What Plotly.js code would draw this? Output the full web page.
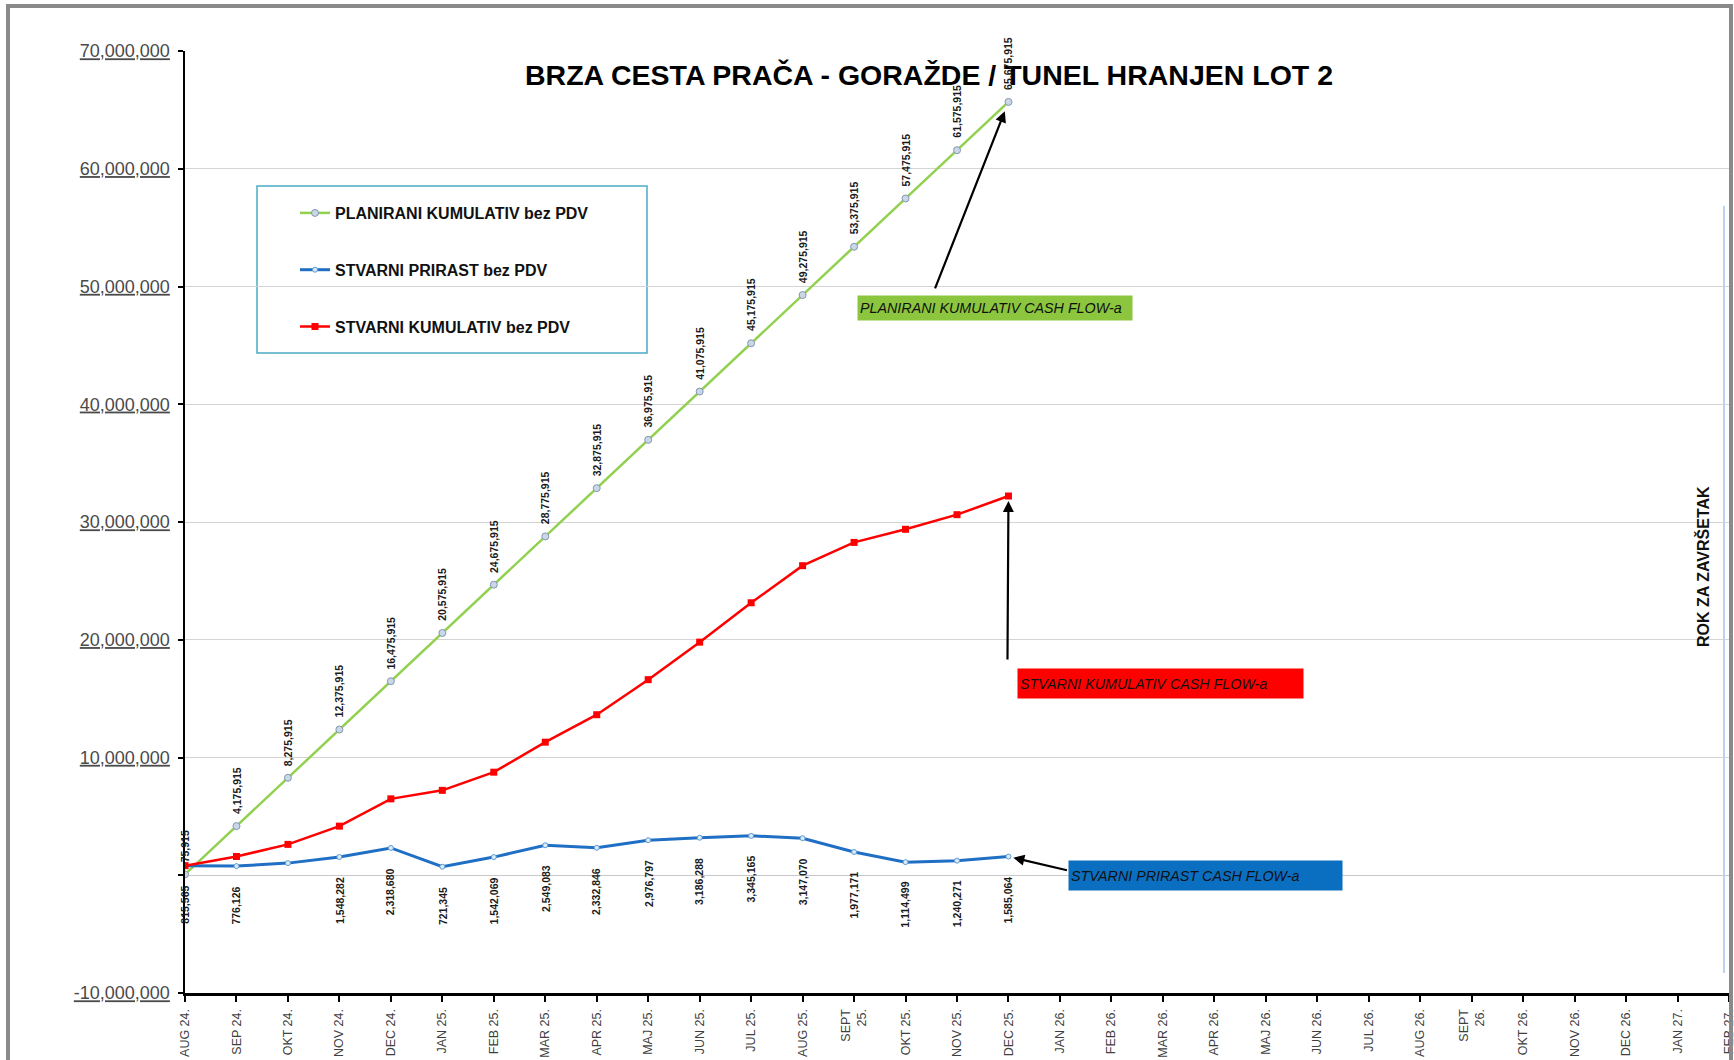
<!DOCTYPE html>
<html>
<head>
<meta charset="utf-8">
<script src="https://cdn.plot.ly/plotly-3.0.1.min.js"></script>
<style>html,body{margin:0;padding:0;background:#fff;}#chart{width:1734px;height:1060px;}</style>
</head>
<body>
<div id="chart"></div>
<script>
const categories = ['AUG 24.','SEP 24.','OKT 24.','NOV 24.','DEC 24.','JAN 25.','FEB 25.','MAR 25.','APR 25.','MAJ 25.','JUN 25.','JUL 25.','AUG 25.','SEPT<br>25.','OKT 25.','NOV 25.','DEC 25.','JAN 26.','FEB 26.','MAR 26.','APR 26.','MAJ 26.','JUN 26.','JUL 26.','AUG 26.','SEPT<br>26.','OKT 26.','NOV 26.','DEC 26.','JAN 27.','FEB 27.'];
const dataMonths = categories.slice(0, 17);
const plannedCumulative = [75915, 4175915, 8275915, 12375915, 16475915, 20575915, 24675915, 28775915, 32875915, 36975915, 41075915, 45175915, 49275915, 53375915, 57475915, 61575915, 65675915];
const actualIncrement = [815565, 776126, 1030000, 1548282, 2318680, 721345, 1542069, 2549083, 2332846, 2976797, 3186288, 3345165, 3147070, 1977171, 1114499, 1240271, 1585064];
const actualCumulative = [815565, 1591691, 2621691, 4169973, 6488653, 7209998, 8752067, 11301150, 13633996, 16610793, 19797081, 23142246, 26289316, 28266487, 29380986, 30621257, 32206321];
const incrementLabelShown = [true, true, false, true, true, true, true, true, true, true, true, true, true, true, true, true, true];
const yTickVals = [-10000000, 0, 10000000, 20000000, 30000000, 40000000, 50000000, 60000000, 70000000];
const yTickLabels = ['-10,000,000', '', '10,000,000', '20,000,000', '30,000,000', '40,000,000', '50,000,000', '60,000,000', '70,000,000'];
const seriesNames = ['PLANIRANI KUMULATIV bez PDV', 'STVARNI PRIRAST bez PDV', 'STVARNI KUMULATIV bez PDV'];
const titleText = 'BRZA CESTA PRAČA - GORAŽDE / TUNEL HRANJEN LOT 2';
const calloutTexts = ['PLANIRANI KUMULATIV CASH FLOW-a', 'STVARNI KUMULATIV CASH FLOW-a', 'STVARNI PRIRAST CASH FLOW-a'];
const deadlineText = 'ROK ZA ZAVRŠETAK';

const FONT = 'Arial, "Liberation Sans", sans-serif';
const fmt = v => v.toLocaleString('en-US');

// plot geometry in pixels
const L = 185, R = 5, T = 51, B = 67, W = 1734, H = 1060;
const PW = W - L - R, PH = H - T - B;
const px = x => (x - L) / PW;
const py = y => (H - B - y) / PH;

const traces = [
  {
    x: dataMonths, y: plannedCumulative, name: seriesNames[0], legendgroup: 'g1',
    type: 'scatter', mode: 'lines+markers',
    line: {color: '#92d050', width: 2.5},
    marker: {symbol: 'circle', size: 7, color: '#c9d7e8', line: {color: '#8597ad', width: 1}}
  },
  {
    x: dataMonths, y: actualIncrement, name: seriesNames[1], legendgroup: 'g2',
    type: 'scatter', mode: 'lines+markers',
    line: {color: '#1f6fc5', width: 3},
    marker: {symbol: 'circle', size: 5, color: '#dce9f7', line: {color: '#5b9bd5', width: 1}}
  },
  {
    x: dataMonths, y: actualCumulative, name: seriesNames[2], legendgroup: 'g3',
    type: 'scatter', mode: 'lines+markers',
    line: {color: '#ff0000', width: 2.5},
    marker: {symbol: 'square', size: 7, color: '#ff0000'}
  }
];

const annotations = [];
const labelFont = {family: FONT, size: 10.5, color: '#1a1a1a', weight: 'bold'};
plannedCumulative.forEach((v, i) => {
  annotations.push({x: dataMonths[i], y: v, xref: 'x', yref: 'y', text: fmt(v), textangle: -90,
    showarrow: false, xanchor: 'center', yanchor: 'bottom', yshift: 10, font: labelFont});
});
actualIncrement.forEach((v, i) => {
  if (!incrementLabelShown[i]) return;
  annotations.push({x: dataMonths[i], y: v, xref: 'x', yref: 'y', text: fmt(v), textangle: -90,
    showarrow: false, xanchor: 'center', yanchor: 'top', yshift: -18, font: labelFont});
});

const last = dataMonths.length - 1;
// arrows
const arrowStyle = {showarrow: true, arrowhead: 2, arrowsize: 1, arrowwidth: 2.2, arrowcolor: '#000', text: '', xref: 'x', yref: 'y'};
annotations.push(Object.assign({}, arrowStyle, {x: dataMonths[last], y: plannedCumulative[last], ax: -74, ay: 188, standoff: 10}));
annotations.push(Object.assign({}, arrowStyle, {x: dataMonths[last], y: actualCumulative[last], ax: -1, ay: 165, standoff: 5}));
annotations.push(Object.assign({}, arrowStyle, {x: dataMonths[last], y: actualIncrement[last], ax: 60, ay: 14, standoff: 5}));

const boxFont = {family: FONT, size: 14.3, color: '#111', style: 'italic'};
annotations.push({xref: 'paper', yref: 'paper', x: px(857), y: py(295), xanchor: 'left', yanchor: 'top',
  text: calloutTexts[0], showarrow: false, align: 'left', width: 270, height: 20, borderpad: 2,
  bgcolor: '#8cc63f', font: boxFont});
annotations.push({xref: 'paper', yref: 'paper', x: px(1017), y: py(668), xanchor: 'left', yanchor: 'top',
  text: calloutTexts[1], showarrow: false, align: 'left', width: 281, height: 25, borderpad: 2,
  bgcolor: '#ff0000', font: boxFont});
annotations.push({xref: 'paper', yref: 'paper', x: px(1068), y: py(860), xanchor: 'left', yanchor: 'top',
  text: calloutTexts[2], showarrow: false, align: 'left', width: 269, height: 25, borderpad: 2,
  bgcolor: '#0b6fc1', font: boxFont});

annotations.push({xref: 'paper', yref: 'paper', x: px(1703), y: py(567), xanchor: 'center', yanchor: 'middle',
  text: deadlineText, textangle: -90, showarrow: false, font: {family: FONT, size: 16, color: '#111', weight: 'bold'}});

const shapes = [
  // legend frame
  {type: 'rect', xref: 'paper', yref: 'paper', x0: px(257), x1: px(647), y0: py(353), y1: py(186),
   line: {color: '#4bacc6', width: 1.5}, fillcolor: 'rgba(0,0,0,0)', layer: 'below'},
  // deadline line
  {type: 'line', xref: 'paper', yref: 'paper', x0: px(1724), x1: px(1724), y0: py(973), y1: py(206),
   line: {color: '#bcd3ee', width: 2}},
  // outer frame
  {type: 'rect', xref: 'paper', yref: 'paper', x0: px(8), x1: px(1731), y0: py(1070), y1: py(6),
   line: {color: '#8a8a8a', width: 4}, fillcolor: 'rgba(0,0,0,0)'}
];

const layout = {
  width: W, height: H,
  margin: {l: L, r: R, t: T, b: B, pad: 0},
  paper_bgcolor: '#ffffff', plot_bgcolor: '#ffffff',
  font: {family: FONT},
  title: {text: titleText, x: px(929), xref: 'paper', xanchor: 'center', y: 1 - 75 / H, yanchor: 'middle',
    font: {family: FONT, size: 28.5, color: '#000', weight: 'bold'}},
  showlegend: true,
  legend: {x: px(295), y: py(196), xanchor: 'left', yanchor: 'top', bgcolor: 'rgba(0,0,0,0)', borderwidth: 0,
    traceorder: 'grouped', tracegroupgap: 33, font: {family: FONT, size: 16, color: '#111', weight: 'bold'}},
  xaxis: {
    type: 'category', categoryorder: 'array', categoryarray: categories,
    range: [0, categories.length - 1], autorange: false,
    tickmode: 'array', tickvals: categories, ticktext: categories,
    tickangle: -90, tickfont: {family: FONT, size: 12.5, color: '#404040'},
    ticks: 'outside', ticklen: 6, tickwidth: 2, tickcolor: '#000', ticklabelstandoff: 2,
    showline: true, linecolor: '#000', linewidth: 3, showgrid: false, zeroline: false, automargin: false
  },
  yaxis: {
    range: [-10000000, 70000000], autorange: false,
    tickmode: 'array', tickvals: yTickVals, ticktext: yTickLabels.map(t => t ? '<u>' + t + '</u>' : ''),
    tickfont: {family: FONT, size: 18, color: '#4a4a4a'},
    ticks: 'outside', ticklen: 5, tickwidth: 2, tickcolor: '#000', ticklabelstandoff: 4,
    showline: true, linecolor: '#000', linewidth: 2.5,
    showgrid: true, gridcolor: '#d4d4d4', gridwidth: 1,
    zeroline: true, zerolinecolor: '#c8c8c8', zerolinewidth: 1.5, automargin: false
  },
  annotations: annotations,
  shapes: shapes
};

Plotly.newPlot('chart', traces, layout, {displayModeBar: false, staticPlot: true});
</script>
</body>
</html>
